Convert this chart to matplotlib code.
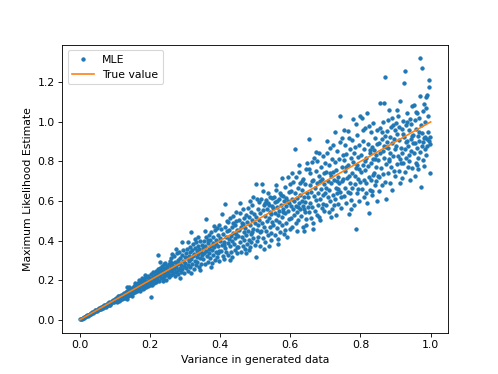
import matplotlib
matplotlib.use('Agg')
import matplotlib.pyplot as plt

# MLE estimates, grouped by variance band (x, y)
band_00 = [(0.002,0.002),(0.004,0.005),(0.006,0.006),(0.008,0.007),(0.010,0.011),(0.012,0.012),(0.013,0.011),(0.015,0.016),(0.017,0.018),(0.019,0.017),(0.021,0.023),(0.022,0.020),(0.024,0.025),(0.026,0.024),(0.028,0.030),(0.030,0.027),(0.031,0.033),(0.033,0.031),(0.035,0.037),(0.037,0.034),(0.039,0.041),(0.041,0.038),(0.043,0.047),(0.045,0.042),(0.047,0.049),(0.049,0.045)]
band_05 = [(0.051,0.055),(0.052,0.047),(0.054,0.052),(0.055,0.058),(0.057,0.053),(0.058,0.061),(0.060,0.056),(0.061,0.064),(0.063,0.058),(0.064,0.067),(0.066,0.062),(0.067,0.071),(0.069,0.064),(0.070,0.074),(0.072,0.068),(0.073,0.077),(0.075,0.070),(0.076,0.066),(0.078,0.081),(0.079,0.074),(0.081,0.085),(0.082,0.077),(0.084,0.089),(0.085,0.080),(0.087,0.073),(0.088,0.092),(0.090,0.084),(0.092,0.096),(0.094,0.088),(0.096,0.101),(0.098,0.090),(0.099,0.104)]
band_10 = [(0.101,0.095),(0.102,0.110),(0.104,0.098),(0.105,0.112),(0.106,0.091),(0.108,0.103),(0.109,0.118),(0.111,0.106),(0.112,0.097),(0.113,0.121),(0.115,0.110),(0.116,0.102),(0.118,0.125),(0.119,0.113),(0.121,0.104),(0.122,0.129),(0.123,0.117),(0.125,0.109),(0.126,0.134),(0.128,0.121),(0.129,0.112),(0.131,0.138),(0.132,0.125),(0.134,0.105),(0.135,0.145),(0.136,0.130),(0.138,0.119),(0.139,0.150),(0.141,0.134),(0.142,0.124),(0.144,0.156),(0.145,0.139),(0.147,0.128),(0.148,0.161),(0.149,0.120),(0.134,0.168),(0.140,0.165)]
band_15 = [(0.151,0.147),(0.152,0.160),(0.153,0.136),(0.155,0.172),(0.156,0.151),(0.157,0.141),(0.159,0.165),(0.160,0.178),(0.161,0.155),(0.163,0.145),(0.164,0.170),(0.165,0.187),(0.167,0.159),(0.168,0.150),(0.169,0.176),(0.171,0.192),(0.172,0.164),(0.173,0.144),(0.175,0.181),(0.176,0.168),(0.177,0.200),(0.179,0.157),(0.180,0.186),(0.181,0.173),(0.183,0.162),(0.184,0.205),(0.185,0.191),(0.187,0.178),(0.188,0.167),(0.189,0.214),(0.191,0.196),(0.192,0.183),(0.193,0.170),(0.195,0.220),(0.196,0.201),(0.197,0.188),(0.199,0.176),(0.176,0.210),(0.168,0.203),(0.186,0.228),(0.158,0.186)]
band_20 = [(0.201,0.209),(0.202,0.113),(0.203,0.188),(0.204,0.230),(0.206,0.196),(0.207,0.177),(0.208,0.218),(0.210,0.240),(0.211,0.203),(0.212,0.185),(0.214,0.226),(0.215,0.212),(0.216,0.248),(0.218,0.193),(0.219,0.232),(0.220,0.205),(0.222,0.255),(0.223,0.219),(0.224,0.327),(0.225,0.198),(0.227,0.240),(0.228,0.262),(0.229,0.226),(0.231,0.209),(0.232,0.247),(0.233,0.272),(0.235,0.234),(0.236,0.213),(0.237,0.256),(0.239,0.280),(0.240,0.241),(0.241,0.220),(0.243,0.263),(0.244,0.288),(0.245,0.249),(0.247,0.227),(0.248,0.271),(0.249,0.236),(0.238,0.197),(0.246,0.203),(0.230,0.290)]
band_25 = [(0.251,0.258),(0.252,0.232),(0.253,0.281),(0.255,0.214),(0.256,0.297),(0.257,0.245),(0.259,0.268),(0.260,0.226),(0.261,0.310),(0.263,0.252),(0.264,0.285),(0.265,0.236),(0.267,0.273),(0.268,0.322),(0.269,0.259),(0.271,0.220),(0.272,0.294),(0.273,0.268),(0.275,0.243),(0.276,0.335),(0.277,0.281),(0.279,0.254),(0.280,0.303),(0.281,0.229),(0.283,0.289),(0.284,0.345),(0.285,0.264),(0.287,0.312),(0.288,0.243),(0.289,0.278),(0.291,0.327),(0.292,0.256),(0.293,0.299),(0.295,0.352),(0.296,0.270),(0.297,0.238),(0.299,0.316),(0.262,0.330),(0.286,0.210),(0.274,0.360),(0.292,0.393)]
band_30 = [(0.301,0.288),(0.302,0.335),(0.303,0.262),(0.305,0.311),(0.306,0.358),(0.307,0.279),(0.309,0.248),(0.310,0.324),(0.311,0.296),(0.313,0.370),(0.314,0.268),(0.315,0.342),(0.317,0.305),(0.318,0.445),(0.319,0.283),(0.321,0.352),(0.322,0.320),(0.323,0.381),(0.325,0.258),(0.326,0.334),(0.327,0.297),(0.329,0.362),(0.330,0.275),(0.331,0.391),(0.333,0.318),(0.334,0.347),(0.335,0.290),(0.337,0.372),(0.338,0.331),(0.339,0.267),(0.341,0.356),(0.342,0.398),(0.343,0.312),(0.345,0.341),(0.346,0.284),(0.347,0.380),(0.349,0.325),(0.308,0.392),(0.328,0.410),(0.344,0.250),(0.336,0.420),(0.316,0.236)]
band_35 = [(0.351,0.362),(0.352,0.307),(0.353,0.398),(0.355,0.335),(0.356,0.281),(0.357,0.372),(0.359,0.416),(0.360,0.507),(0.361,0.349),(0.363,0.320),(0.364,0.386),(0.365,0.294),(0.367,0.360),(0.368,0.430),(0.369,0.338),(0.371,0.401),(0.372,0.310),(0.373,0.375),(0.375,0.446),(0.376,0.352),(0.377,0.288),(0.379,0.390),(0.380,0.325),(0.381,0.418),(0.383,0.366),(0.384,0.302),(0.385,0.455),(0.387,0.382),(0.388,0.341),(0.389,0.404),(0.391,0.318),(0.392,0.462),(0.393,0.373),(0.395,0.426),(0.396,0.350),(0.397,0.297),(0.399,0.398),(0.358,0.450),(0.374,0.268),(0.382,0.472),(0.394,0.335),(0.398,0.480),(0.366,0.405)]
band_40 = [(0.401,0.412),(0.402,0.350),(0.403,0.458),(0.405,0.378),(0.406,0.534),(0.407,0.320),(0.409,0.432),(0.410,0.395),(0.411,0.305),(0.413,0.470),(0.414,0.362),(0.415,0.585),(0.417,0.418),(0.418,0.340),(0.419,0.447),(0.421,0.388),(0.422,0.492),(0.423,0.328),(0.425,0.408),(0.426,0.455),(0.427,0.371),(0.429,0.512),(0.430,0.425),(0.431,0.345),(0.433,0.468),(0.434,0.398),(0.435,0.318),(0.437,0.440),(0.438,0.525),(0.439,0.383),(0.441,0.478),(0.442,0.412),(0.443,0.352),(0.445,0.497),(0.446,0.431),(0.447,0.370),(0.449,0.455),(0.412,0.380),(0.428,0.300),(0.436,0.490),(0.444,0.545),(0.448,0.335),(0.420,0.500)]
band_45 = [(0.451,0.425),(0.452,0.368),(0.453,0.502),(0.455,0.452),(0.456,0.392),(0.457,0.540),(0.459,0.470),(0.460,0.345),(0.461,0.418),(0.463,0.488),(0.464,0.372),(0.465,0.558),(0.467,0.445),(0.468,0.405),(0.469,0.512),(0.471,0.360),(0.472,0.465),(0.473,0.530),(0.475,0.428),(0.476,0.385),(0.477,0.495),(0.479,0.565),(0.480,0.450),(0.481,0.402),(0.483,0.520),(0.484,0.370),(0.485,0.478),(0.487,0.545),(0.488,0.432),(0.489,0.395),(0.491,0.505),(0.492,0.578),(0.493,0.460),(0.494,0.622),(0.495,0.415),(0.497,0.532),(0.498,0.380),(0.499,0.488),(0.458,0.590),(0.474,0.338),(0.486,0.600),(0.466,0.482),(0.482,0.355),(0.490,0.445)]
band_50 = [(0.501,0.520),(0.502,0.315),(0.503,0.684),(0.504,0.455),(0.505,0.398),(0.507,0.560),(0.508,0.478),(0.509,0.420),(0.511,0.595),(0.512,0.505),(0.513,0.372),(0.515,0.538),(0.516,0.448),(0.517,0.610),(0.518,0.686),(0.519,0.490),(0.521,0.650),(0.522,0.415),(0.523,0.555),(0.525,0.470),(0.526,0.578),(0.527,0.392),(0.529,0.525),(0.530,0.448),(0.531,0.605),(0.533,0.498),(0.534,0.562),(0.535,0.428),(0.537,0.588),(0.538,0.512),(0.539,0.375),(0.541,0.545),(0.542,0.470),(0.543,0.620),(0.545,0.532),(0.546,0.438),(0.547,0.575),(0.549,0.492),(0.506,0.610),(0.524,0.360),(0.536,0.640),(0.544,0.405),(0.548,0.615),(0.514,0.445),(0.528,0.590),(0.540,0.580)]
band_55 = [(0.551,0.565),(0.552,0.478),(0.553,0.618),(0.555,0.428),(0.556,0.540),(0.557,0.595),(0.559,0.505),(0.560,0.655),(0.561,0.462),(0.563,0.572),(0.564,0.528),(0.565,0.410),(0.567,0.608),(0.568,0.495),(0.569,0.550),(0.571,0.642),(0.572,0.445),(0.573,0.582),(0.575,0.715),(0.576,0.520),(0.577,0.478),(0.579,0.625),(0.580,0.560),(0.581,0.432),(0.583,0.598),(0.584,0.670),(0.585,0.540),(0.587,0.488),(0.588,0.615),(0.589,0.575),(0.591,0.418),(0.592,0.720),(0.593,0.552),(0.595,0.648),(0.596,0.508),(0.597,0.590),(0.599,0.458),(0.558,0.680),(0.566,0.385),(0.574,0.632),(0.586,0.455),(0.594,0.600),(0.578,0.545),(0.598,0.685),(0.562,0.600)]
band_60 = [(0.601,0.575),(0.602,0.652),(0.603,0.512),(0.605,0.612),(0.606,0.470),(0.607,0.560),(0.609,0.695),(0.610,0.598),(0.611,0.530),(0.612,0.865),(0.613,0.640),(0.615,0.490),(0.616,0.575),(0.617,0.722),(0.619,0.615),(0.620,0.545),(0.621,0.668),(0.623,0.505),(0.624,0.588),(0.625,0.745),(0.627,0.632),(0.628,0.560),(0.629,0.690),(0.631,0.525),(0.632,0.602),(0.633,0.658),(0.635,0.470),(0.636,0.575),(0.637,0.712),(0.638,0.448),(0.639,0.620),(0.641,0.545),(0.642,0.685),(0.643,0.595),(0.645,0.760),(0.646,0.510),(0.647,0.642),(0.649,0.568),(0.604,0.740),(0.618,0.450),(0.626,0.780),(0.634,0.700),(0.644,0.480),(0.648,0.790),(0.622,0.570),(0.640,0.560)]
band_65 = [(0.651,0.620),(0.652,0.545),(0.653,0.915),(0.655,0.680),(0.656,0.590),(0.657,0.740),(0.659,0.512),(0.660,0.648),(0.661,0.795),(0.663,0.572),(0.664,0.705),(0.665,0.488),(0.667,0.625),(0.668,0.820),(0.669,0.668),(0.671,0.548),(0.672,0.752),(0.673,0.605),(0.675,0.690),(0.676,0.530),(0.677,0.802),(0.679,0.640),(0.680,0.578),(0.681,0.725),(0.683,0.845),(0.684,0.612),(0.685,0.505),(0.687,0.770),(0.688,0.660),(0.689,0.565),(0.691,0.712),(0.692,0.828),(0.693,0.628),(0.695,0.742),(0.696,0.548),(0.697,0.685),(0.699,0.790),(0.654,0.760),(0.666,0.460),(0.674,0.850),(0.682,0.520),(0.694,0.585),(0.698,0.640),(0.662,0.700),(0.686,0.700)]
band_70 = [(0.701,0.665),(0.702,0.580),(0.703,0.745),(0.705,0.842),(0.706,0.622),(0.707,0.702),(0.709,0.545),(0.710,0.780),(0.711,0.655),(0.713,0.868),(0.714,0.598),(0.715,0.728),(0.717,0.690),(0.718,0.812),(0.719,0.560),(0.721,0.745),(0.722,0.632),(0.723,0.885),(0.725,0.705),(0.726,0.610),(0.727,0.795),(0.729,0.668),(0.730,0.528),(0.731,0.758),(0.733,0.852),(0.734,0.640),(0.735,0.720),(0.737,0.585),(0.738,0.810),(0.739,0.690),(0.741,0.898),(0.742,0.648),(0.743,1.032),(0.745,0.563),(0.746,0.772),(0.747,0.700),(0.749,0.835),(0.704,0.905),(0.716,0.520),(0.728,0.950),(0.736,0.660),(0.744,0.620),(0.748,0.920),(0.712,0.740),(0.724,0.580),(0.732,0.700)]
band_75 = [(0.751,0.710),(0.752,0.625),(0.753,0.805),(0.755,0.882),(0.756,0.668),(0.757,0.752),(0.759,0.590),(0.760,0.838),(0.761,0.715),(0.763,0.955),(0.764,0.645),(0.765,0.782),(0.767,0.728),(0.768,0.536),(0.769,0.862),(0.771,0.690),(0.772,0.605),(0.773,0.818),(0.775,0.742),(0.776,0.910),(0.777,0.665),(0.779,1.015),(0.780,0.795),(0.781,0.578),(0.783,0.728),(0.784,0.872),(0.785,0.685),(0.787,0.457),(0.788,0.768),(0.789,0.935),(0.791,0.640),(0.792,0.822),(0.793,0.712),(0.795,0.885),(0.796,0.602),(0.797,0.760),(0.798,1.032),(0.799,0.695),(0.754,0.960),(0.766,0.920),(0.774,0.560),(0.786,0.990),(0.794,0.660),(0.758,0.770),(0.782,0.845),(0.790,0.780),(0.770,0.640)]
band_80 = [(0.801,0.745),(0.802,0.835),(0.803,0.660),(0.805,1.020),(0.806,0.782),(0.807,0.905),(0.809,0.705),(0.810,0.618),(0.811,0.862),(0.813,0.758),(0.814,0.970),(0.815,0.690),(0.817,0.815),(0.818,0.588),(0.819,1.043),(0.821,0.775),(0.822,0.888),(0.823,0.720),(0.825,0.539),(0.826,0.842),(0.827,0.655),(0.829,0.948),(0.830,0.790),(0.831,0.705),(0.833,0.875),(0.834,0.628),(0.835,0.812),(0.837,0.995),(0.838,0.742),(0.839,0.860),(0.841,0.680),(0.842,0.918),(0.843,0.772),(0.845,0.835),(0.846,0.602),(0.847,0.888),(0.849,0.728),(0.808,0.960),(0.816,0.640),(0.824,0.980),(0.832,0.650),(0.840,0.810),(0.848,0.960),(0.812,0.800),(0.836,0.730),(0.844,0.700),(0.828,0.860)]
band_85 = [(0.851,0.805),(0.852,0.895),(0.853,0.720),(0.855,0.968),(0.856,0.842),(0.857,1.094),(0.859,0.765),(0.860,0.912),(0.861,0.680),(0.863,0.855),(0.864,0.998),(0.865,0.735),(0.866,1.097),(0.867,0.818),(0.869,0.930),(0.870,1.229),(0.871,0.695),(0.873,0.875),(0.874,0.785),(0.875,0.955),(0.877,0.742),(0.878,0.868),(0.879,1.010),(0.880,1.060),(0.881,0.810),(0.883,0.925),(0.884,0.690),(0.885,0.845),(0.887,0.975),(0.888,0.772),(0.889,0.895),(0.891,0.658),(0.892,0.830),(0.893,0.985),(0.895,0.752),(0.896,0.912),(0.897,0.865),(0.899,0.725),(0.854,0.650),(0.862,0.950),(0.872,0.610),(0.882,0.800),(0.890,1.020),(0.898,0.960),(0.868,0.880),(0.876,0.900)]
band_90 = [(0.901,0.880),(0.902,0.995),(0.903,0.785),(0.905,0.940),(0.906,0.830),(0.907,1.030),(0.909,0.752),(0.910,0.908),(0.911,0.975),(0.913,0.812),(0.914,1.106),(0.915,0.870),(0.917,0.718),(0.918,0.962),(0.919,0.845),(0.921,1.005),(0.922,0.790),(0.923,1.197),(0.925,0.925),(0.926,0.862),(0.927,0.745),(0.928,1.259),(0.929,0.985),(0.931,0.818),(0.932,0.905),(0.933,1.045),(0.935,0.772),(0.936,0.878),(0.937,0.958),(0.939,0.835),(0.940,1.015),(0.941,0.705),(0.943,0.915),(0.944,0.852),(0.945,0.990),(0.947,0.765),(0.948,1.080),(0.949,0.892),(0.904,1.060),(0.912,0.690),(0.920,0.940),(0.930,0.900),(0.938,0.800),(0.946,0.930),(0.916,0.790),(0.934,1.000)]
band_95 = [(0.951,0.935),(0.952,1.085),(0.953,0.842),(0.954,0.726),(0.955,1.010),(0.956,0.895),(0.957,0.790),(0.959,0.965),(0.960,0.870),(0.961,1.045),(0.963,0.815),(0.964,0.930),(0.965,0.760),(0.967,1.020),(0.968,0.905),(0.969,0.848),(0.970,1.323),(0.971,1.133),(0.972,0.985),(0.973,0.669),(0.974,0.880),(0.975,1.274),(0.976,0.942),(0.977,0.805),(0.979,1.055),(0.980,0.918),(0.981,0.775),(0.983,1.000),(0.984,0.862),(0.985,0.925),(0.986,1.128),(0.987,0.835),(0.988,1.068),(0.989,0.912),(0.990,1.136),(0.991,0.880),(0.992,0.950),(0.993,1.030),(0.994,0.905),(0.995,1.212),(0.996,1.178),(0.997,0.925),(0.998,0.890),(0.999,0.740),(0.958,1.050),(0.966,0.950),(0.978,0.900),(0.982,1.090),(0.962,0.780)]

# true value line endpoints (y = x)
true_var = [0.0, 1.0]

bands = [band_00, band_05, band_10, band_15, band_20, band_25, band_30, band_35, band_40, band_45,
         band_50, band_55, band_60, band_65, band_70, band_75, band_80, band_85, band_90, band_95]
variance = [p[0] for b in bands for p in b]
mle = [p[1] for b in bands for p in b]

fig, ax = plt.subplots(figsize=(498 / 78, 374 / 78), dpi=78)

ax.plot(variance, mle, '.', label='MLE')
ax.plot(true_var, true_var, label='True value')

ax.set_xlabel('Variance in generated data')
ax.set_ylabel('Maximum Likelihood Estimate')
ax.legend()

plt.savefig('out.png', dpi=78)
